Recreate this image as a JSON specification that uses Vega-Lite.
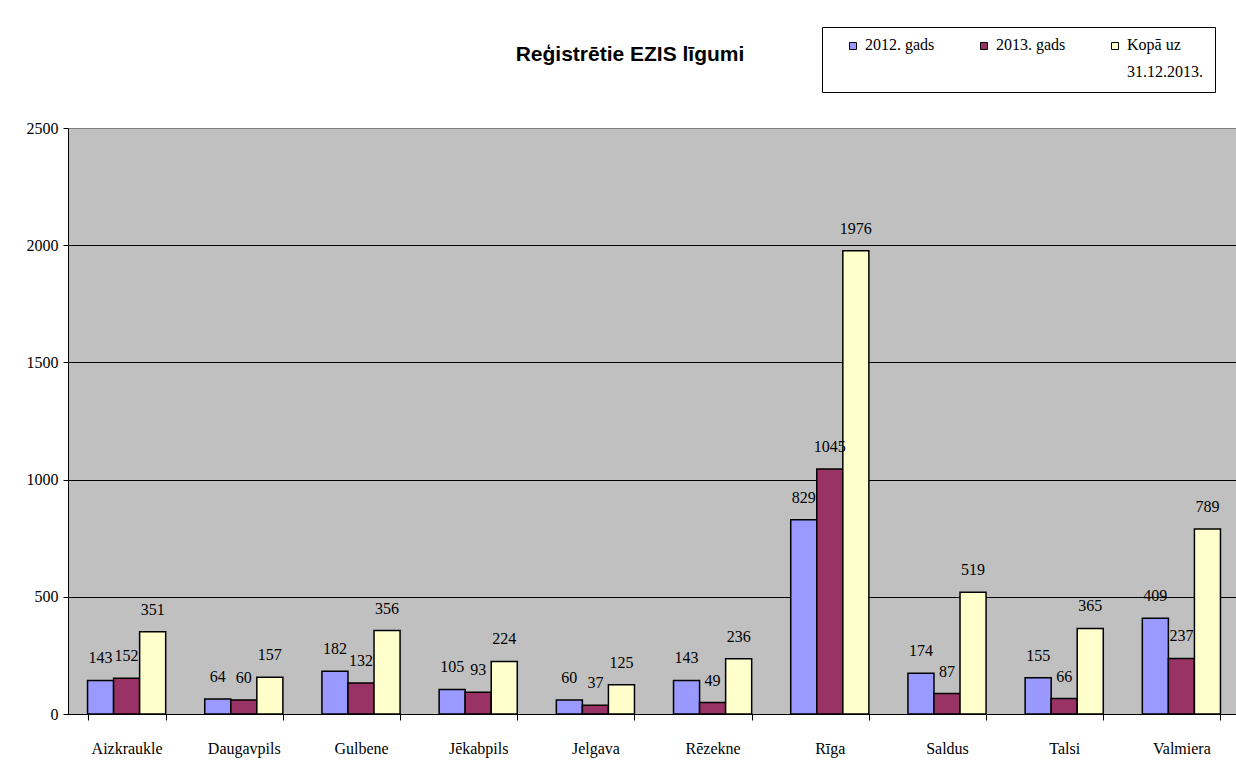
{
  "$schema": "https://vega.github.io/schema/vega-lite/v6.json",
  "autosize": {"type": "none"},
  "width": 1172,
  "height": 586,
  "padding": {"left": 68, "top": 128, "right": 0, "bottom": 62},
  "background": "white",
  "title": {
    "text": "Reģistrētie EZIS līgumi",
    "font": "Liberation Sans Narrow, Liberation Sans, Arial",
    "fontSize": 21,
    "fontWeight": "bold",
    "color": "black",
    "anchor": "middle",
    "frame": "group",
    "dx": -24,
    "offset": -38
  },
  "config": {
    "view": {"fill": "#C0C0C0", "stroke": "#808080", "strokeWidth": 1},
    "axis": {
      "labelFont": "Liberation Serif",
      "labelFontSize": 16,
      "labelColor": "black",
      "domainColor": "black",
      "tickColor": "black",
      "title": null
    }
  },
  "data": {
    "values": [
      {"city": "Aizkraukle", "series": "2012. gads", "value": 143},
      {"city": "Aizkraukle", "series": "2013. gads", "value": 152},
      {"city": "Aizkraukle", "series": "Kopā uz 31.12.2013.", "value": 351},
      {"city": "Daugavpils", "series": "2012. gads", "value": 64},
      {"city": "Daugavpils", "series": "2013. gads", "value": 60},
      {"city": "Daugavpils", "series": "Kopā uz 31.12.2013.", "value": 157},
      {"city": "Gulbene", "series": "2012. gads", "value": 182},
      {"city": "Gulbene", "series": "2013. gads", "value": 132},
      {"city": "Gulbene", "series": "Kopā uz 31.12.2013.", "value": 356},
      {"city": "Jēkabpils", "series": "2012. gads", "value": 105},
      {"city": "Jēkabpils", "series": "2013. gads", "value": 93},
      {"city": "Jēkabpils", "series": "Kopā uz 31.12.2013.", "value": 224},
      {"city": "Jelgava", "series": "2012. gads", "value": 60},
      {"city": "Jelgava", "series": "2013. gads", "value": 37},
      {"city": "Jelgava", "series": "Kopā uz 31.12.2013.", "value": 125},
      {"city": "Rēzekne", "series": "2012. gads", "value": 143},
      {"city": "Rēzekne", "series": "2013. gads", "value": 49},
      {"city": "Rēzekne", "series": "Kopā uz 31.12.2013.", "value": 236},
      {"city": "Rīga", "series": "2012. gads", "value": 829},
      {"city": "Rīga", "series": "2013. gads", "value": 1045},
      {"city": "Rīga", "series": "Kopā uz 31.12.2013.", "value": 1976},
      {"city": "Saldus", "series": "2012. gads", "value": 174},
      {"city": "Saldus", "series": "2013. gads", "value": 87},
      {"city": "Saldus", "series": "Kopā uz 31.12.2013.", "value": 519},
      {"city": "Talsi", "series": "2012. gads", "value": 155},
      {"city": "Talsi", "series": "2013. gads", "value": 66},
      {"city": "Talsi", "series": "Kopā uz 31.12.2013.", "value": 365},
      {"city": "Valmiera", "series": "2012. gads", "value": 409},
      {"city": "Valmiera", "series": "2013. gads", "value": 237},
      {"city": "Valmiera", "series": "Kopā uz 31.12.2013.", "value": 789}
    ]
  },
  "encoding": {
    "x": {
      "field": "city",
      "type": "nominal",
      "sort": null,
      "scale": {"paddingInner": 0.3333, "paddingOuter": 0.1667},
      "axis": {
        "labelAngle": 0,
        "tickBand": "extent",
        "tickSize": 6,
        "labelPadding": 20,
        "labelBaseline": "top",
        "domainWidth": 1
      }
    },
    "xOffset": {"field": "series", "type": "nominal", "scale": {"paddingInner": 0, "paddingOuter": 0}},
    "y": {
      "field": "value",
      "type": "quantitative",
      "scale": {"domain": [0, 2500], "nice": false},
      "axis": {
        "values": [0, 500, 1000, 1500, 2000, 2500],
        "format": "d",
        "tickSize": 5,
        "labelPadding": 5,
        "grid": true,
        "gridColor": {"condition": {"test": "datum.value === 2500", "value": "#808080"}, "value": "black"},
        "gridWidth": 1,
        "domainWidth": 1
      }
    }
  },
  "layer": [
    {
      "mark": {"type": "bar", "stroke": "black", "strokeWidth": 1.5, "cornerRadius": 0},
      "encoding": {
        "color": {
          "field": "series",
          "type": "nominal",
          "scale": {
            "domain": ["2012. gads", "2013. gads", "Kopā uz 31.12.2013."],
            "range": ["#9999FF", "#993366", "#FFFFCC"]
          },
          "legend": {
            "title": null,
            "orient": "none",
            "legendX": 754,
            "legendY": -101,
            "direction": "horizontal",
            "columns": 3,
            "gridAlign": "all",
            "columnPadding": 24,
            "padding": 12,
            "strokeColor": "black",
            "fillColor": "white",
            "symbolType": "square",
            "symbolSize": 49,
            "symbolStrokeColor": "black",
            "symbolStrokeWidth": 1,
            "symbolOffset": 11,
            "labelFont": "Liberation Serif",
            "labelFontSize": 16,
            "labelColor": "black",
            "labelOffset": 4,
            "labelBaseline": "top",
            "labelLimit": 200,
            "labelExpr": "datum.label == 'Kopā uz 31.12.2013.' ? ['Kopā uz', '31.12.2013.'] : [datum.label, ' ']",
            "encode": {
              "symbols": {"update": {"y": {"value": 7}}},
              "labels": {"update": {"y": {"value": 0}, "dy": {"value": -2}, "lineHeight": {"value": 27}}}
            }
          }
        }
      }
    },
    {
      "mark": {
        "type": "text",
        "font": "Liberation Serif",
        "fontSize": 16,
        "color": "black",
        "baseline": "middle",
        "dy": -22
      },
      "encoding": {
        "text": {"field": "value", "type": "quantitative"}
      }
    }
  ]
}
